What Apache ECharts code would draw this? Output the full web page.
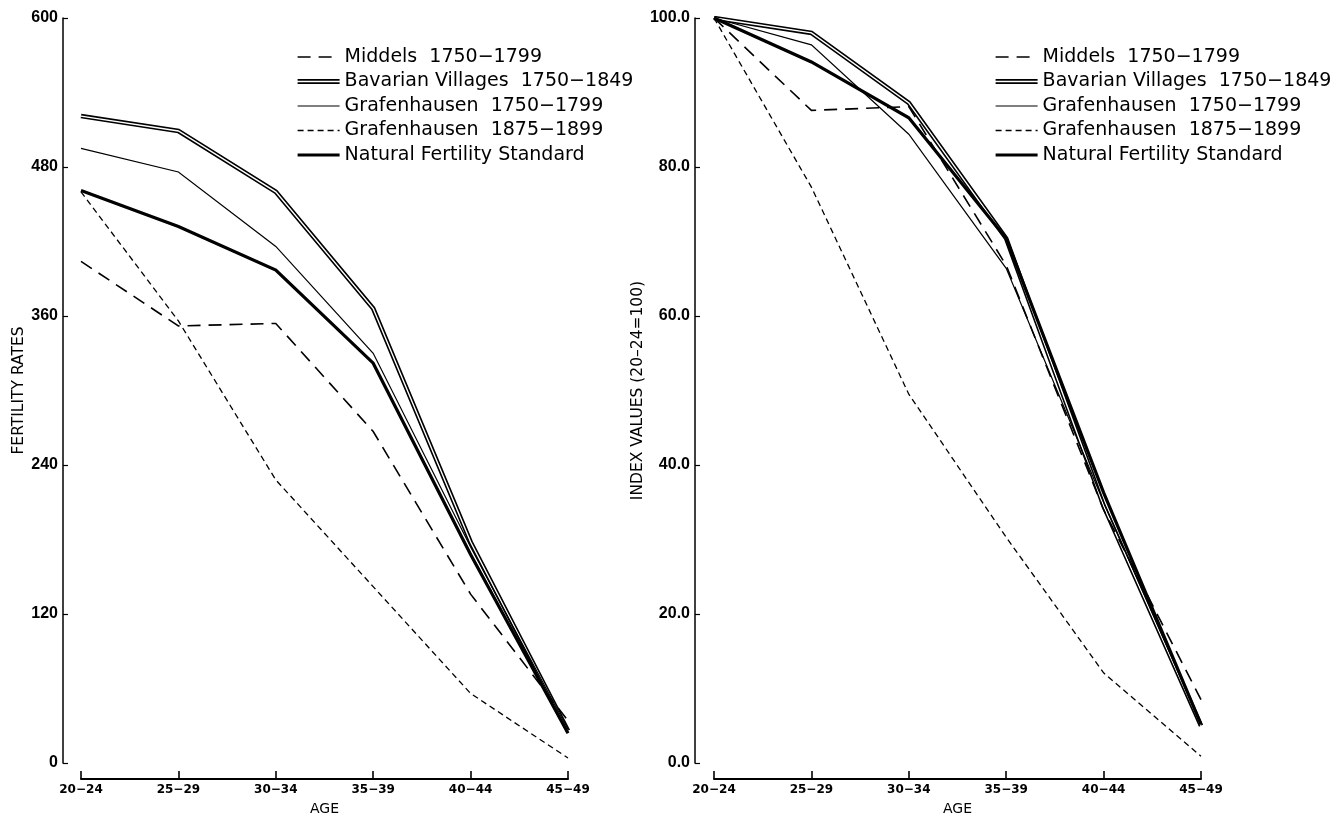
<!DOCTYPE html>
<html>
<head>
<meta charset="utf-8">
<script src="https://cdn.jsdelivr.net/npm/echarts@6/dist/echarts.min.js"></script>
<style>
html,body{margin:0;padding:0;background:#fff;}
#chart{width:1338px;height:821px;}
</style>
</head>
<body>
<div id="chart"></div>
<script>
// ---- data ----
const ageGroups = ['20−24', '25−29', '30−34', '35−39', '40−44', '45−49'];
const seriesNames = ['Middels  1750−1799', 'Bavarian Villages  1750−1849', 'Grafenhausen  1750−1799', 'Grafenhausen  1875−1899', 'Natural Fertility Standard'];

// Fertility rates (left panel)
const ratesMiddels = [404, 352, 354, 267, 136, 34];
const ratesBavarian = [521, 509, 460, 366, 178, 26];
const ratesGraf1750 = [495, 476, 416, 330, 174, 27];
const ratesGraf1875 = [460, 356, 228, 142, 56, 4];
const ratesNatural = [461, 432, 397, 322, 168, 24];

// Index values, 20-24 = 100 (right panel)
const indexMiddels = [100, 87.6, 88.1, 66.8, 34.0, 8.5];
const indexBavarian = [100, 98.0, 88.6, 70.4, 34.5, 5.0];
const indexGraf1750 = [100, 96.4, 84.4, 66.4, 35.0, 5.2];
const indexGraf1875 = [100, 77.3, 49.5, 30.3, 12.1, 0.9];
const indexNatural = [100, 94.1, 86.6, 70.4, 36.3, 5.2];

const ratesAxis = {min: 0, max: 600, interval: 120};
const indexAxis = {min: 0, max: 100, interval: 20};

// ---- styles ----
const FONT = "'DejaVu Sans', 'Liberation Sans', sans-serif";
const TICKFONT = "'Liberation Sans', 'DejaVu Sans', sans-serif";
const styles = [
  {width: 1.6, type: [13, 8]},
  {width: 4.6, type: 'solid'},
  {width: 1.2, type: 'solid'},
  {width: 1.3, type: [6, 4]},
  {width: 3.2, type: 'solid'}
];
const doubleIcon = 'path://M0,0H42V1.7H0Z M0,3.3H42V5H0Z';

function makeSeries(dataArrs, gi) {
  const out = [];
  dataArrs.forEach((d, i) => {
    out.push({
      name: seriesNames[i], type: 'line', xAxisIndex: gi, yAxisIndex: gi,
      data: d, symbol: 'none', silent: true, animation: false,
      color: '#000',
      lineStyle: {color: '#000', width: styles[i].width, type: styles[i].type, cap: 'butt', join: 'miter'},
      itemStyle: {color: '#000', borderWidth: 0},
      emphasis: {disabled: true},
      z: i === 1 ? 3 : (i === 4 ? 5 : 4)
    });
    if (i === 1) {
      out.push({
        name: 'inner' + gi, type: 'line', xAxisIndex: gi, yAxisIndex: gi,
        data: d, symbol: 'none', silent: true, animation: false,
        lineStyle: {color: '#fff', width: 1.4, type: 'solid', join: 'miter'},
        emphasis: {disabled: true},
        z: 3.5
      });
    }
  });
  return out;
}

function legendFor(left) {
  return {
    orient: 'vertical', left: left, top: 47, padding: 0,
    itemWidth: 42, itemHeight: 5, itemGap: 4.5,
    selectedMode: false,
    itemStyle: {opacity: 0},
    textStyle: {fontFamily: FONT, fontSize: 19, color: '#000', lineHeight: 20},
    data: seriesNames.map((n, i) => i === 1
      ? {name: n, icon: doubleIcon, itemStyle: {color: '#000', borderWidth: 0, opacity: 1}}
      : {name: n, lineStyle: {width: styles[i].width, type: styles[i].type, color: '#000'}})
  };
}

function xAxisFor(gi) {
  return {
    type: 'category', gridIndex: gi, data: ageGroups, boundaryGap: false,
    offset: 16,
    axisLine: {show: true, onZero: false, lineStyle: {color: '#000', width: 2}},
    axisTick: {show: true, inside: true, length: 8, lineStyle: {color: '#000', width: 1.6}},
    axisLabel: {color: '#000', fontFamily: FONT, fontSize: 12, fontWeight: 'bold', margin: 5},
    splitLine: {show: false},
    name: 'AGE', nameLocation: 'middle', nameGap: 23,
    nameTextStyle: {color: '#000', fontFamily: FONT, fontSize: 14}
  };
}

function yAxisFor(gi, ax, name, offset, nameGap, decimals) {
  return {
    type: 'value', gridIndex: gi, min: ax.min, max: ax.max, interval: ax.interval,
    offset: offset,
    axisLine: {show: true, lineStyle: {color: '#000', width: 1.5}},
    axisTick: {show: true, inside: true, length: 5, lineStyle: {color: '#000', width: 1.2}},
    axisLabel: {color: '#000', fontFamily: TICKFONT, fontSize: 16, fontWeight: 'bold', margin: 5,
      formatter: v => v.toFixed(decimals)},
    splitLine: {show: false},
    name: name, nameLocation: 'middle', nameGap: nameGap, nameRotate: 90,
    nameTextStyle: {color: '#000', fontFamily: FONT, fontSize: 15.5}
  };
}

const chart = echarts.init(document.getElementById('chart'), null, {renderer: 'canvas'});
chart.setOption({
  backgroundColor: '#fff',
  animation: false,
  grid: [
    {left: 81, top: 18, width: 487, height: 749, containLabel: false},
    {left: 714, top: 18, width: 487, height: 749, containLabel: false}
  ],
  legend: [legendFor(296), legendFor(994)],
  xAxis: [xAxisFor(0), xAxisFor(1)],
  yAxis: [
    yAxisFor(0, ratesAxis, 'FERTILITY RATES', 18, 36, 0),
    yAxisFor(1, indexAxis, 'INDEX VALUES (20–24=100)', 19, 43, 1)
  ],
  series: [
    ...makeSeries([ratesMiddels, ratesBavarian, ratesGraf1750, ratesGraf1875, ratesNatural], 0),
    ...makeSeries([indexMiddels, indexBavarian, indexGraf1750, indexGraf1875, indexNatural], 1)
  ]
});
</script>
</body>
</html>
